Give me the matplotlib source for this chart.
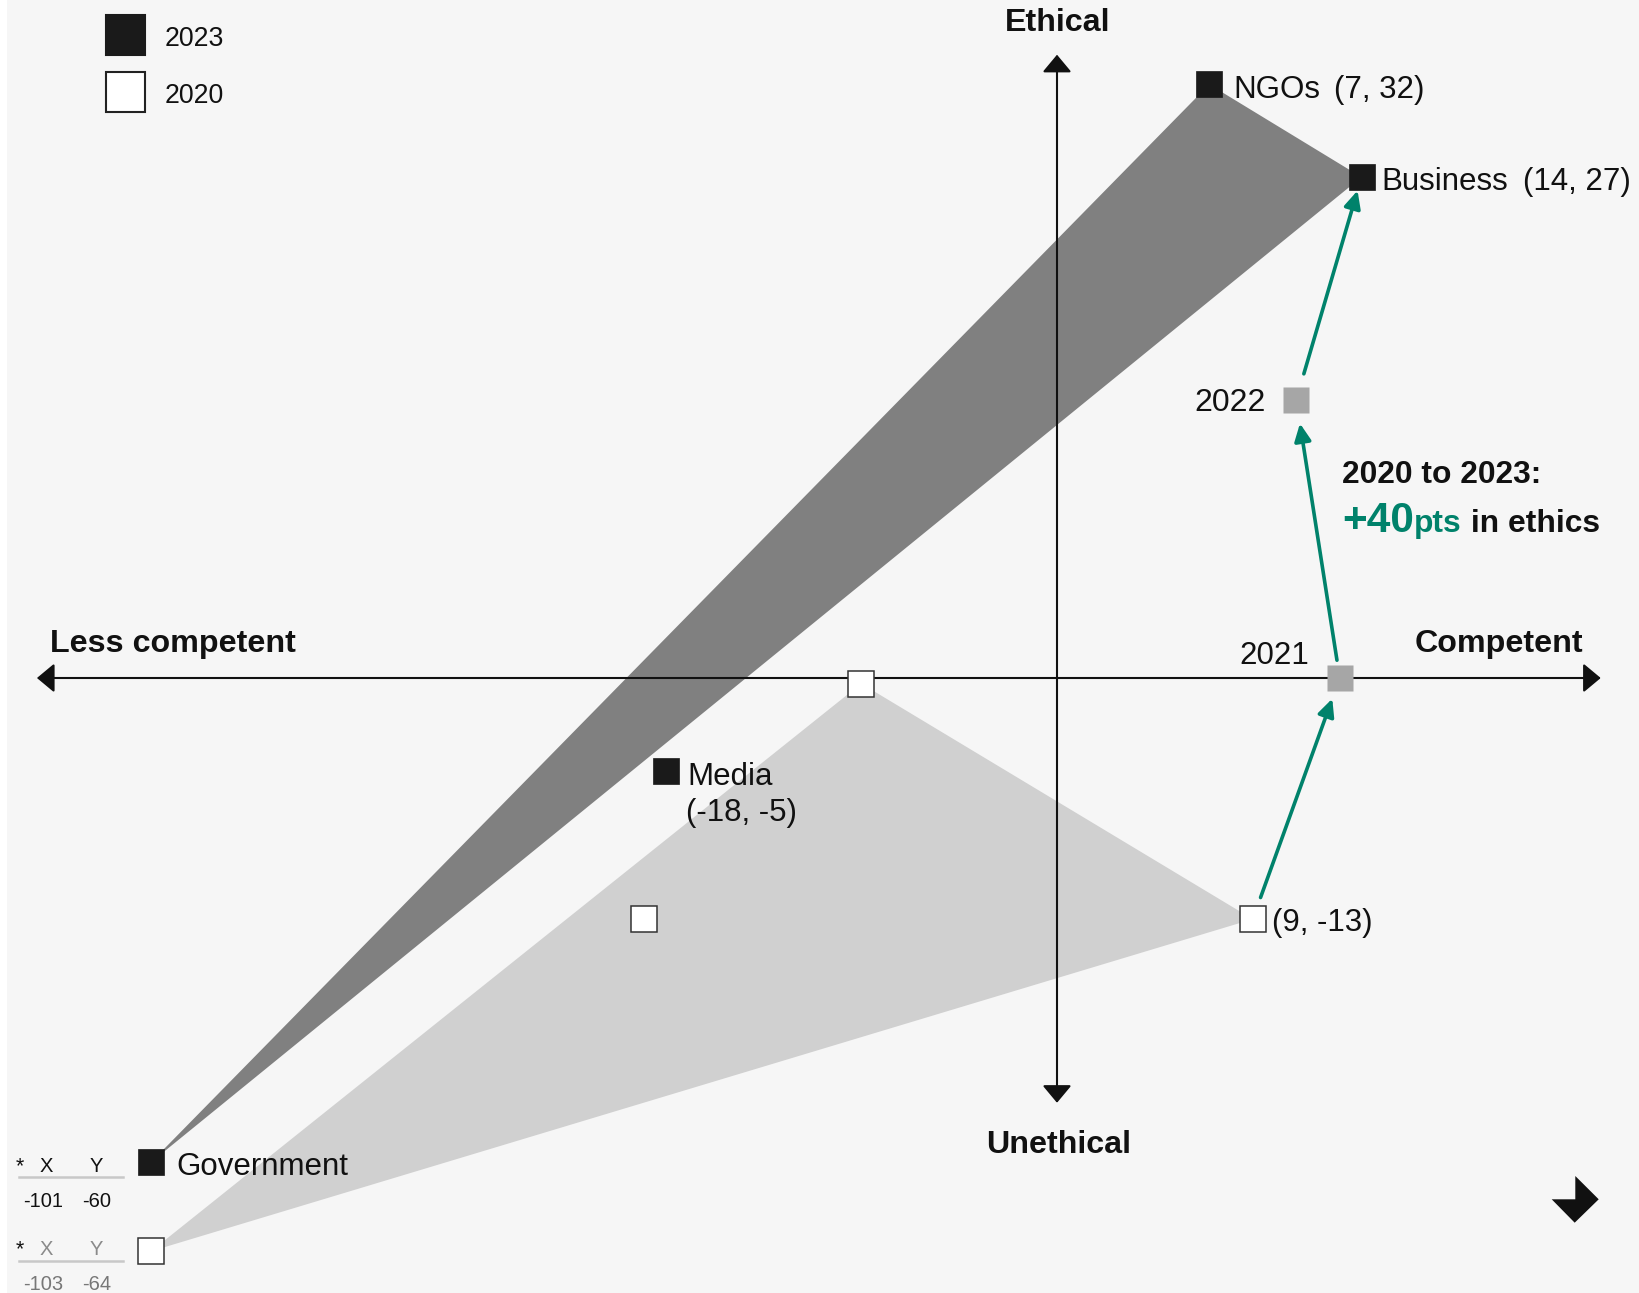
import matplotlib
matplotlib.use("Agg")
import matplotlib.pyplot as plt
from matplotlib.patches import Polygon, FancyArrowPatch, Rectangle, ArrowStyle
from matplotlib.lines import Line2D

plt.rcParams['font.family'] = ['Liberation Sans', 'DejaVu Sans']

# ---------------------------------------------------------------- data
# Net competence (x) and net ethics (y) scores by institution
institutions = ["NGOs", "Business", "Media", "Government"]
competence_2023 = [7, 14, -18, -101]
ethics_2023 = [32, 27, -5, -60]
competence_2020 = [-9, 9, -19, -103]
ethics_2020 = [-0.3, -13, -13, -64]

# institutions joined into the shaded shapes
shape_members = ["NGOs", "Business", "Government"]

# Business trajectory, year by year
business_years = [2020, 2021, 2022, 2023]
business_competence = [9, 13, 11, 14]
business_ethics = [-13, 0, 15, 27]

legend_years = ["2023", "2020"]

# ---------------------------------------------------------------- style
W, H, DPI = 1639, 1293, 100
BG = "#f6f6f6"
INK = "#111111"
DARK_SQ = "#1a1a1a"
DARK_FILL = "#808080"
LIGHT_FILL = "#d0d0d0"
MID_SQ = "#a6a6a6"
TEAL = "#00826b"
GREY_TXT = "#8a8a8a"
RULE = "#c8c8c8"
LABEL_FS = 22.5
AXIS_FS = 23.2
CALLOUT_FS = 22.9
TABLE_FS = 14.5
SQ = 19.4  # marker side, points

fig = plt.figure(figsize=(W / DPI, H / DPI), dpi=DPI, facecolor="white")
fig.patches.append(Rectangle((7 / W, 0), 1 - 7 / W, 1, transform=fig.transFigure,
                             facecolor=BG, edgecolor="none", zorder=-10))


def fpx(x, y):
    """figure pixel position (from top-left) -> figure fraction"""
    return x / W, 1 - y / H


def ftext(x, y, s, **kw):
    kw.setdefault("color", INK)
    kw.setdefault("va", "baseline")
    return fig.text(*fpx(x, y), s, transform=fig.transFigure, **kw)


# axes fill the whole canvas; the scale puts the origin near the centre-right
ax = fig.add_axes([0, 0, 1, 1])
ax.set_axis_off()
ORIGIN_PX = (1057, 678)
PX_PER_X, PX_PER_Y = 21.75, 18.55
ax.set_xlim(-ORIGIN_PX[0] / PX_PER_X, (W - ORIGIN_PX[0]) / PX_PER_X)
ax.set_ylim(-(H - ORIGIN_PX[1]) / PX_PER_Y, ORIGIN_PX[1] / PX_PER_Y)

AXIS_X = (-46.9, 25.0)
AXIS_Y = (-22.9, 33.6)

# values beyond the drawn axes are parked in the lower-left corner
PARK_X, PARK_Y0, PARK_STEP = -41.65, -26.1, -4.8


def shown(x, y, slot):
    if x < AXIS_X[0] or y < AXIS_Y[0]:
        return PARK_X, PARK_Y0 + slot * PARK_STEP
    return x, y


pos_2023 = {n: shown(x, y, 0) for n, x, y in zip(institutions, competence_2023, ethics_2023)}
pos_2020 = {n: shown(x, y, 1) for n, x, y in zip(institutions, competence_2020, ethics_2020)}

# shaded shapes
ax.add_patch(Polygon([pos_2020[n] for n in shape_members], closed=True,
                     facecolor=LIGHT_FILL, edgecolor="none", zorder=1))
ax.add_patch(Polygon([pos_2023[n] for n in shape_members], closed=True,
                     facecolor=DARK_FILL, edgecolor="none", zorder=1.5))

# axes with arrowheads at both ends
axis_style = ArrowStyle("<|-|>", head_length=10.8, head_width=9)
ax.add_patch(FancyArrowPatch((AXIS_X[0], 0), (AXIS_X[1], 0), arrowstyle=axis_style,
                             mutation_scale=1, shrinkA=0, shrinkB=0, lw=1.5,
                             color=INK, zorder=2))
ax.add_patch(FancyArrowPatch((0, AXIS_Y[0]), (0, AXIS_Y[1]), arrowstyle=axis_style,
                             mutation_scale=1, shrinkA=0, shrinkB=0, lw=1.5,
                             color=INK, zorder=2))

# Business year-on-year path
gaps_px = [(23, 22), (18, 24), (27, 14)]
path_style = ArrowStyle("-|>", head_length=10.5, head_width=5)
for i in range(len(business_years) - 1):
    a = (business_competence[i], business_ethics[i])
    b = (business_competence[i + 1], business_ethics[i + 1])
    ga, gb = gaps_px[i]
    ax.add_patch(FancyArrowPatch(a, b, arrowstyle=path_style, mutation_scale=1,
                                 shrinkA=ga * 0.72, shrinkB=gb * 0.72, lw=2.6,
                                 color=TEAL, zorder=3))

# intermediate years
mid_x = business_competence[1:-1]
mid_y = business_ethics[1:-1]
ax.plot(mid_x, mid_y, ls="none", marker="s", ms=SQ, mfc=MID_SQ, mec="none", zorder=4)

# 2020 and 2023 markers
for n in institutions:
    x, y = pos_2020[n]
    ax.plot([x], [y], ls="none", marker="s", ms=SQ, mfc="white", mec="#333333",
            mew=1.1, zorder=4)
for n in institutions:
    x, y = pos_2023[n]
    ax.plot([x], [y], ls="none", marker="s", ms=SQ, mfc=DARK_SQ, mec=DARK_SQ,
            mew=0.5, zorder=5)


def label(xy, s, dx, dy, **kw):
    kw.setdefault("fontsize", LABEL_FS)
    kw.setdefault("color", INK)
    kw.setdefault("va", "baseline")
    kw.setdefault("ha", "left")
    return ax.annotate(s, xy=xy, xytext=(dx, dy), textcoords="offset pixels",
                       zorder=6, **kw)


def fmt(v):
    return f"{v:g}"


# institution labels (2023)
i_ngo = institutions.index("NGOs")
t = label(pos_2023["NGOs"], "NGOs", 24, -14)
ax.annotate(f"({fmt(competence_2023[i_ngo])}, {fmt(ethics_2023[i_ngo])})",
            xy=(1, 0), xycoords=t, xytext=(14, 0), textcoords="offset pixels",
            fontsize=LABEL_FS, color=INK, va="bottom", ha="left")

i_bus = institutions.index("Business")
t = label(pos_2023["Business"], "Business", 20, -13)
ax.annotate(f"({fmt(competence_2023[i_bus])}, {fmt(ethics_2023[i_bus])})",
            xy=(1, 0), xycoords=t, xytext=(15, 0), textcoords="offset pixels",
            fontsize=LABEL_FS, color=INK, va="bottom", ha="left")

i_med = institutions.index("Media")
label(pos_2023["Media"], "Media", 22, -14)
label(pos_2023["Media"], f"({fmt(competence_2023[i_med])}, {fmt(ethics_2023[i_med])})", 20, -50.5)

label(pos_2023["Government"], "Government", 25, -13)

label(pos_2020["Business"], f"({fmt(competence_2020[i_bus])}, {fmt(ethics_2020[i_bus])})", 19, -12)

# year labels along the path
label((business_competence[1], business_ethics[1]), str(business_years[1]), -31, 14, ha="right")
label((business_competence[2], business_ethics[2]), str(business_years[2]), -30, -11, ha="right",
      fontsize=LABEL_FS + 0.5)

# axis titles
ftext(1058, 31, "Ethical", fontsize=AXIS_FS, fontweight="bold", ha="center")
ftext(1059, 1153.3, "Unethical", fontsize=AXIS_FS, fontweight="bold", ha="center")
ftext(50, 651.7, "Less competent", fontsize=AXIS_FS, fontweight="bold", ha="left")
ftext(1415, 651.7, "Competent", fontsize=AXIS_FS, fontweight="bold", ha="left")

# change callout
gain = business_ethics[-1] - business_ethics[0]
ftext(1342, 482.7, f"{business_years[0]} to {business_years[-1]}:", fontsize=CALLOUT_FS,
      fontweight="bold", ha="left")
t1 = ftext(1342, 531.7, f"+{gain}", fontsize=30.5, fontweight="bold", color=TEAL, ha="left")
a1 = ax.annotate("pts", xy=(1, 1 - 531.7 / H), xycoords=(t1, "figure fraction"),
                 xytext=(0, 0), textcoords="offset pixels", fontsize=CALLOUT_FS,
                 fontweight="bold", color=TEAL, va="baseline", ha="left")
ax.annotate(" in ethics", xy=(1, 1 - 531.7 / H), xycoords=(a1, "figure fraction"),
            xytext=(0, 0), textcoords="offset pixels", fontsize=CALLOUT_FS,
            fontweight="bold", color=INK, va="baseline", ha="left")

# legend
leg_boxes = [(106, 15, 39, 40, DARK_SQ, DARK_SQ), (106, 72, 39, 40, "white", "#222222")]
leg_base = [45.7, 103.3]
for (x0, y0, w, h, fc, ec), yr, base in zip(leg_boxes, legend_years, leg_base):
    fig.patches.append(Rectangle(fpx(x0, y0 + h), w / W, h / H, transform=fig.transFigure,
                                 facecolor=fc, edgecolor=ec, lw=1.5, zorder=5))
    ftext(165, base, yr, fontsize=19.2, ha="left")

# small value tables for the parked government markers
tables = [
    (competence_2023[3], ethics_2023[3], INK, INK, 1171.7),
    (competence_2020[3], ethics_2020[3], GREY_TXT, "#777777", 1255.0),
]
for xv, yv, head_c, val_c, top in tables:
    ftext(16, top, "*", fontsize=TABLE_FS + 1, ha="left")
    ftext(45.8, top, "X", fontsize=TABLE_FS, ha="center", color=head_c)
    ftext(96.7, top, "Y", fontsize=TABLE_FS, ha="center", color=head_c)
    fig.add_artist(Line2D([19 / W, 123 / W], [1 - (top + 5.5) / H] * 2,
                          transform=fig.transFigure, color=RULE, lw=1.8))
    ftext(43, top + 35, fmt(xv), fontsize=TABLE_FS, ha="center", color=val_c)
    ftext(97, top + 35, fmt(yv), fontsize=TABLE_FS, ha="center", color=val_c)

# corner mark
mark = [(1551.7, 1199.3), (1575.3, 1199.3), (1575.3, 1176.0), (1598.7, 1199.3), (1574.7, 1222.7)]
fig.patches.append(Polygon([fpx(x, y) for x, y in mark], closed=True,
                           transform=fig.transFigure, facecolor=INK, edgecolor="none"))

fig.savefig("out.png", dpi=DPI, facecolor=fig.get_facecolor())
